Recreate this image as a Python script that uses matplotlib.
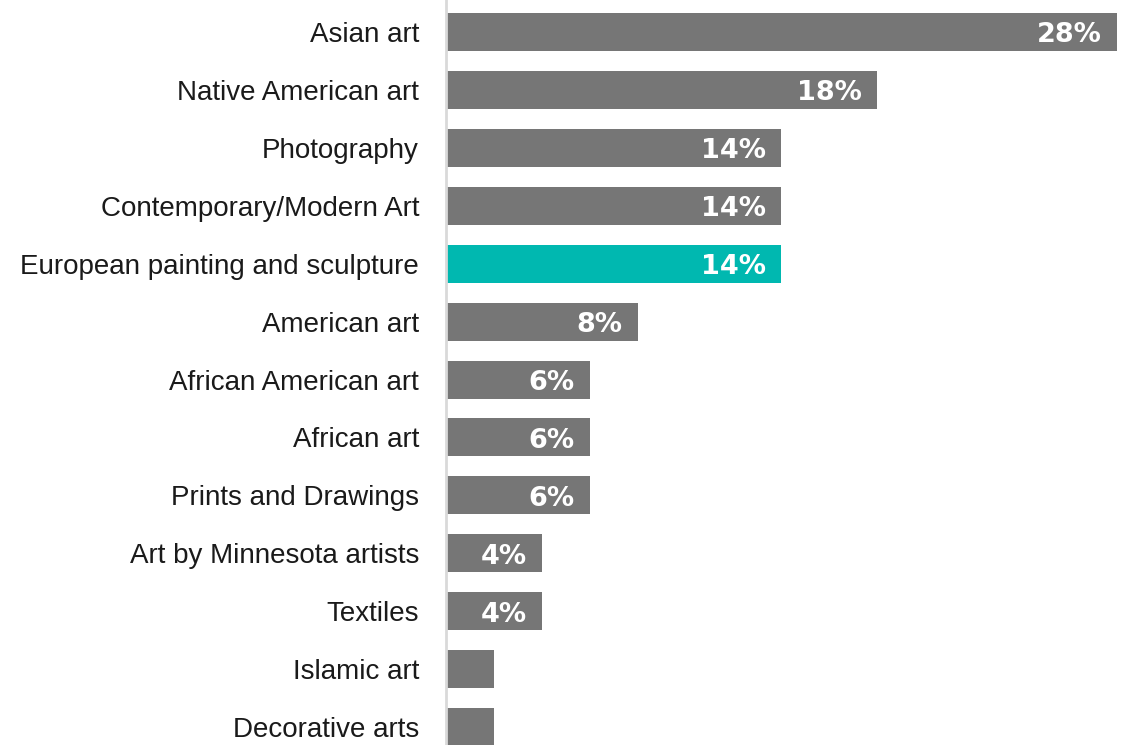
import matplotlib
matplotlib.use("Agg")
import matplotlib.pyplot as plt

categories = [
    "Asian art", "Native American art", "Photography", "Contemporary/Modern Art",
    "European painting and sculpture", "American art", "African American art",
    "African art", "Prints and Drawings", "Art by Minnesota artists", "Textiles",
    "Islamic art", "Decorative arts",
]
values = [28, 18, 14, 14, 14, 8, 6, 6, 6, 4, 4, 2, 2]
labels = ["28%", "18%", "14%", "14%", "14%", "8%", "6%", "6%", "6%", "4%", "4%", "", ""]
highlight = "European painting and sculpture"

GRAY = "#767676"
TEAL = "#00b8b0"

plt.rcParams["font.family"] = ["Liberation Sans", "DejaVu Sans"]

fig = plt.figure(figsize=(11.27, 7.45), dpi=100)
ax = fig.add_axes([446 / 1127, 0, 1 - 446 / 1127, 1])

ypos = list(range(len(categories)))
colors = [TEAL if c == highlight else GRAY for c in categories]
ax.barh(ypos, values, height=0.656, color=colors, left=0, zorder=2)

ax.set_xlim(0, 28.42)
ax.set_ylim(12.31, -0.5525)

# value labels inside the bar ends
for y, v, lab in zip(ypos, values, labels):
    if lab:
        ax.text(v - 0.64, y + 0.18, lab, ha="right", va="baseline", color="white",
                fontsize=19.5, fontweight="bold", family=["DejaVu Sans"],
                zorder=3)

ax.set_yticks(ypos)
ax.set_yticklabels(categories, fontsize=20, color="#1a1a1a")
ax.tick_params(axis="y", length=0, pad=19.4)
ax.set_xticks([])

for side in ("top", "right", "bottom"):
    ax.spines[side].set_visible(False)
ax.spines["left"].set_color("#d9d9d9")
ax.spines["left"].set_linewidth(2)

fig.savefig("out.png", dpi=100)
